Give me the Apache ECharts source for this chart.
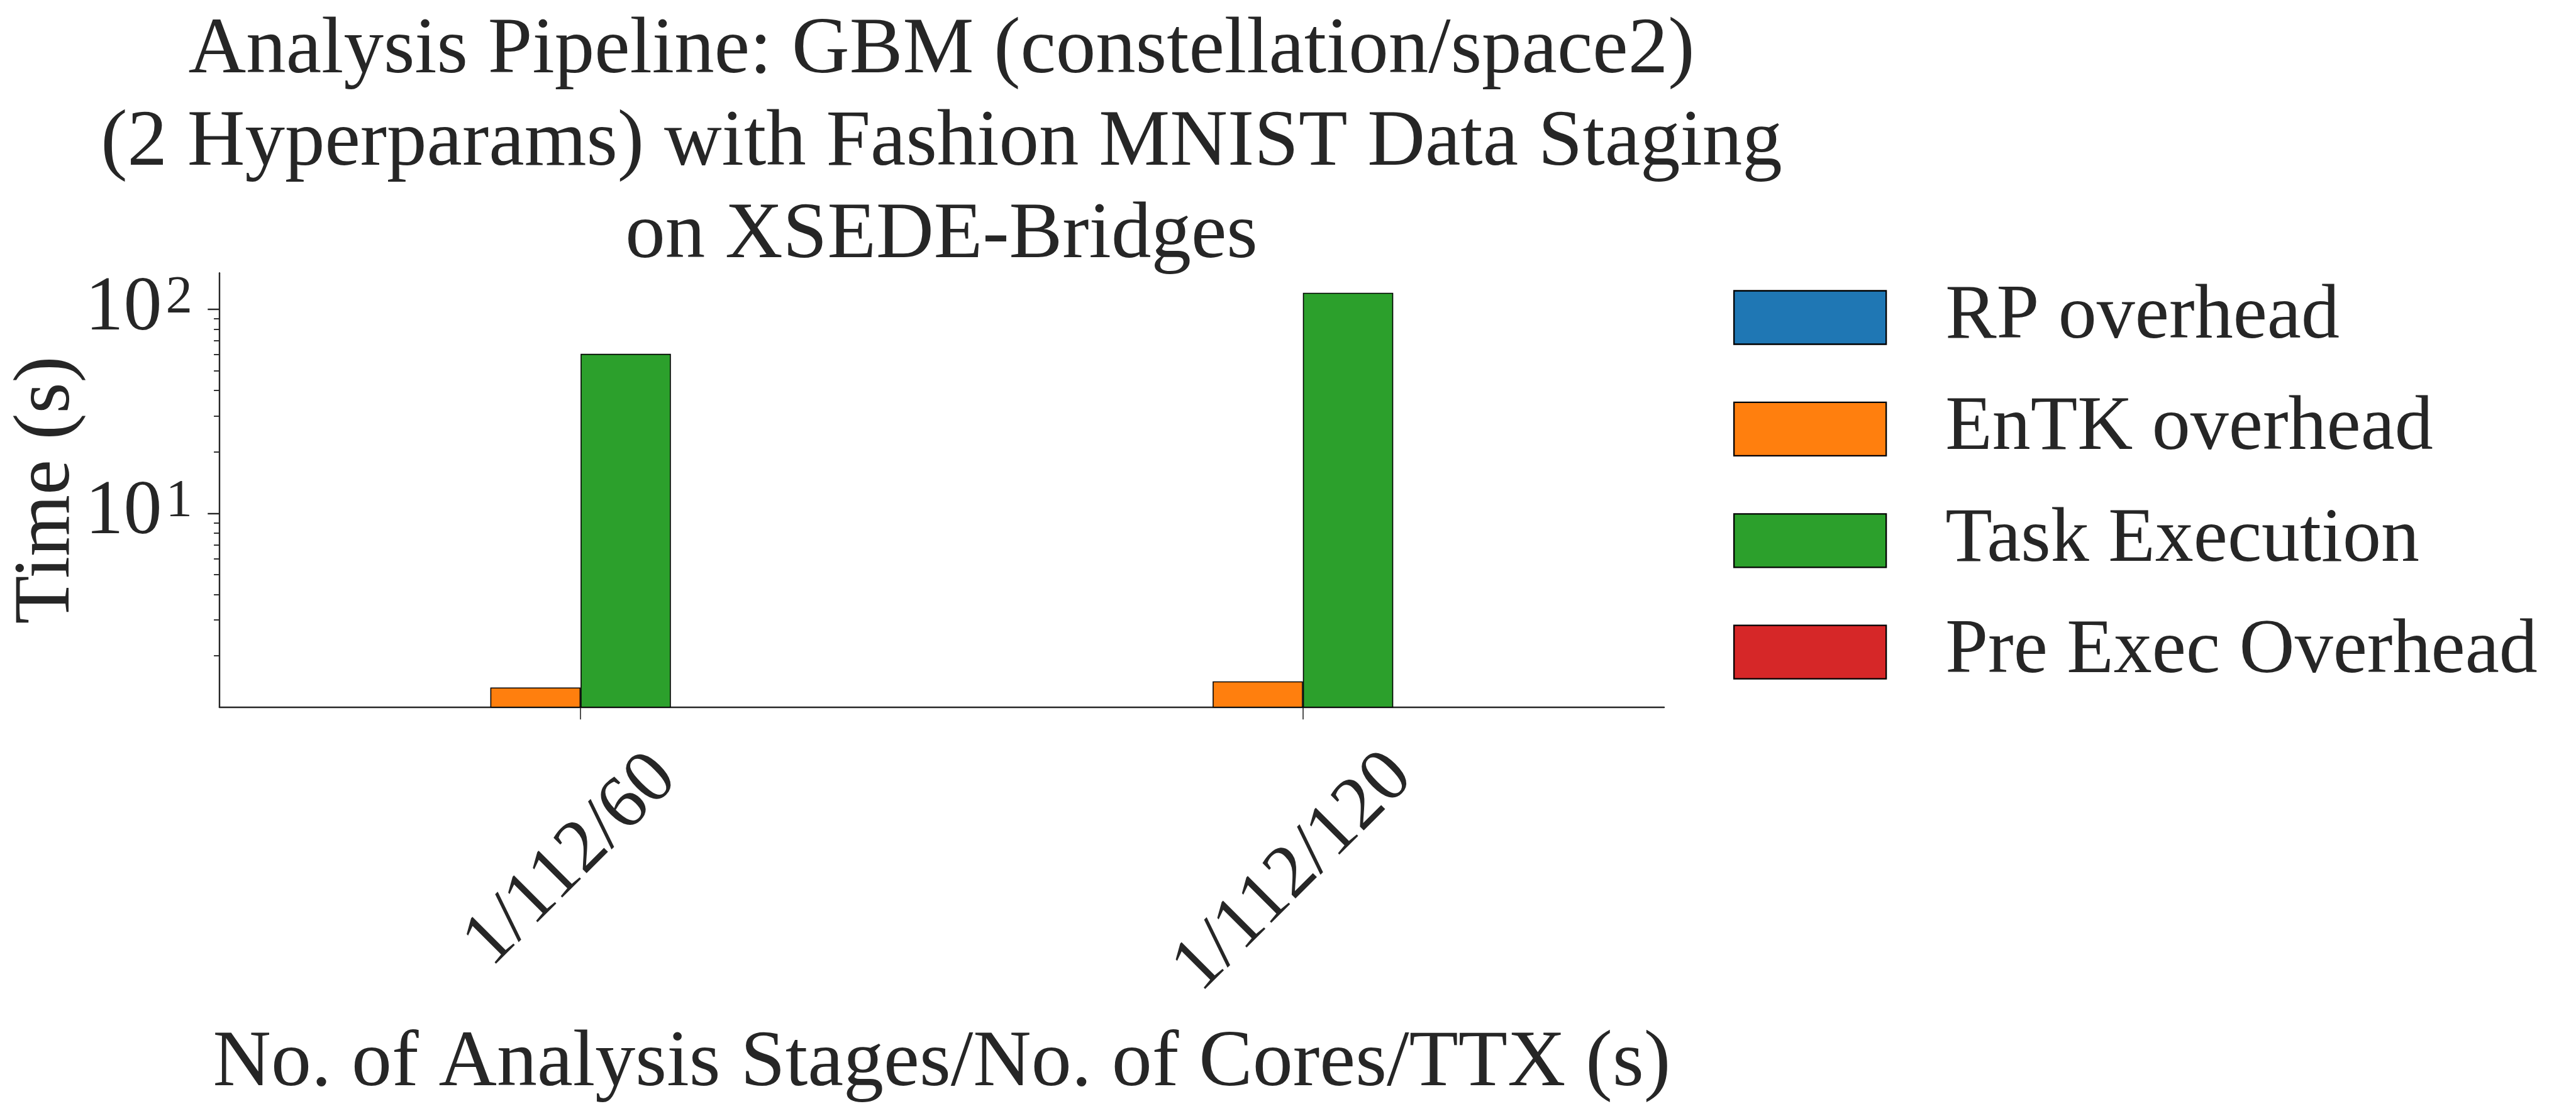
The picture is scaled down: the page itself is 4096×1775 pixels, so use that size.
<!DOCTYPE html>
<html>
<head>
<meta charset="utf-8">
<script src="https://cdn.jsdelivr.net/npm/echarts@6/dist/echarts.min.js"></script>
<style>
html, body { margin: 0; padding: 0; background: #ffffff; }
#chart { width: 4096px; height: 1775px; }
</style>
</head>
<body>
<div id="chart"></div>
<script>
// ---- data ----
const categories = ['1/112/60', '1/112/120'];
const seriesNames = ['RP overhead', 'EnTK overhead', 'Task Execution', 'Pre Exec Overhead'];
const rpOverhead = [null, null];
const entkOverhead = [1.40, 1.50];
const taskExecution = [60.5, 120.5];
const preExecOverhead = [null, null];
const majorTickValues = [10, 100];
const majorTickExponents = ['1', '2'];
const minorTickValues = [2, 3, 4, 5, 6, 7, 8, 9, 20, 30, 40, 50, 60, 70, 80, 90];
const yMin = 1.121;
const yMax = 150.7;
const titleLines = [
  'Analysis Pipeline: GBM (constellation/space2)',
  '(2 Hyperparams) with Fashion MNIST Data Staging',
  'on XSEDE-Bridges'
];
const xAxisName = 'No. of Analysis Stages/No. of Cores/TTX (s)';
const yAxisName = 'Time (s)';

// ---- style ----
const FONT = "'Liberation Serif', 'DejaVu Serif', serif";
const TXT = '#262626';
const colors = ['#1f77b4', '#ff7f0e', '#2ca02c', '#d62728'];
const seriesData = [rpOverhead, entkOverhead, taskExecution, preExecOverhead];

const chart = echarts.init(document.getElementById('chart'), null, { renderer: 'canvas' });

const series = seriesNames.map((name, i) => ({
  name: name,
  type: 'bar',
  xAxisIndex: 0,
  yAxisIndex: 0,
  data: seriesData[i],
  barGap: '0%',
  barCategoryGap: '50%',
  clip: true,
  itemStyle: { color: colors[i], borderColor: '#000000', borderWidth: 1.6 }
}));

const option = {
  animation: false,
  backgroundColor: '#ffffff',
  title: {
    text: titleLines.join('\n'),
    left: 1497,
    top: 8,
    textAlign: 'center',
    padding: 0,
    textStyle: { fontFamily: FONT, fontSize: 127, fontWeight: 'normal', color: TXT, lineHeight: 147 }
  },
  legend: {
    orient: 'vertical',
    left: 2756,
    top: 444,
    padding: 0,
    itemWidth: 242,
    itemHeight: 85,
    itemGap: 55.4,
    icon: 'rect',
    data: seriesNames,
    itemStyle: { borderColor: '#000000', borderWidth: 2.3 },
    textStyle: { fontFamily: FONT, fontSize: 122, color: TXT, padding: [0, 0, 0, 89] }
  },
  grid: {
    left: 348.9,
    right: 1450,
    top: 434.2,
    bottom: 650.2,
    containLabel: false,
    outerBoundsMode: 'none'
  },
  xAxis: {
    type: 'category',
    data: categories,
    boundaryGap: true,
    axisLine: { show: true, lineStyle: { color: TXT, width: 2.4 } },
    axisTick: { show: true, alignWithLabel: true, length: 19.4, lineStyle: { color: TXT, width: 1.6 } },
    splitLine: { show: false },
    axisLabel: {
      interval: 0,
      rotate: 45,
      margin: 263,
      align: 'center',
      verticalAlign: 'middle',
      hideOverlap: false,
      formatter: (v, i) => '{l' + i + '|' + v + '}',
      rich: {
        l0: { fontFamily: FONT, fontSize: 120, color: TXT, padding: [0, 0, 48, 6] },
        l1: { fontFamily: FONT, fontSize: 120, color: TXT, padding: [0, 21, 21, 0] }
      }
    },
    name: xAxisName,
    nameLocation: 'middle',
    nameGap: 506,
    nameMoveOverlap: false,
    nameTextStyle: { fontFamily: FONT, fontSize: 128, color: TXT, lineHeight: 124 }
  },
  yAxis: [
    {
      type: 'log',
      logBase: 10,
      min: yMin,
      max: yMax,
      position: 'left',
      offset: 0,
      axisLine: { show: true, lineStyle: { color: TXT, width: 2.4 } },
      axisTick: { show: true, length: 18.6, customValues: majorTickValues, lineStyle: { color: TXT, width: 2.4 } },
      splitLine: { show: false },
      minorTick: { show: false },
      axisLabel: {
        customValues: majorTickValues,
        margin: 43,
        showMinLabel: true,
        showMaxLabel: true,
        formatter: (v) => {
          const idx = majorTickValues.findIndex(t => Math.abs(t - v) / t < 1e-6);
          const e = idx >= 0 ? majorTickExponents[idx] : '';
          return '{b|10}{s|' + e + '}';
        },
        rich: {
          b: { fontFamily: FONT, fontSize: 122, color: TXT, lineHeight: 120 },
          s: { fontFamily: FONT, fontSize: 85, color: TXT, lineHeight: 54, verticalAlign: 'top', padding: [0, 0, 0, 6] }
        }
      },
      name: yAxisName,
      nameLocation: 'middle',
      nameGap: 211,
      nameMoveOverlap: false,
      nameTextStyle: { fontFamily: FONT, fontSize: 126, color: TXT, lineHeight: 124 }
    },
    {
      type: 'log',
      logBase: 10,
      min: yMin,
      max: yMax,
      position: 'left',
      offset: 0,
      axisLine: { show: false },
      axisTick: { show: true, length: 8.8, customValues: minorTickValues, lineStyle: { color: TXT, width: 1.9 } },
      splitLine: { show: false },
      axisLabel: { show: false }
    }
  ],
  series: series
};

chart.setOption(option);
</script>
</body>
</html>
